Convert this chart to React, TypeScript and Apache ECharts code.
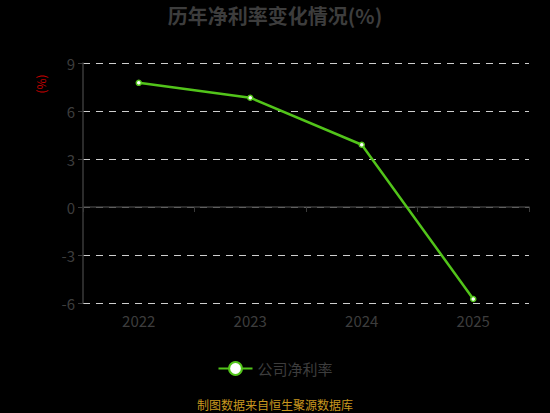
import { useEffect, useRef } from "react";
import * as echarts from "echarts";

const years = ["2022", "2023", "2024", "2025"];
const netMargin = [7.76, 6.83, 3.89, -5.75];
const seriesName = "公司净利率";

const FONT = "'Noto Sans CJK SC', 'Noto Sans', sans-serif";

function App() {
  const chartRef = useRef<HTMLDivElement>(null);

  useEffect(() => {
    if (!chartRef.current) return;
    const chart = echarts.init(chartRef.current, undefined, { renderer: "svg" });

    const option: echarts.EChartsOption = {
      animation: false,
      backgroundColor: "#000000",
      textStyle: { fontFamily: FONT },
      title: {
        text: "历年净利率变化情况(%)",
        left: "center",
        top: 0,
        textStyle: { color: "#3d3d3d", fontSize: 20, fontWeight: "bold", fontFamily: FONT },
      },
      grid: { left: 83, right: 21, top: 63, bottom: 110 },
      legend: {
        bottom: 32,
        left: "center",
        itemWidth: 34,
        itemHeight: 16,
        data: [seriesName],
        textStyle: { color: "#3d3d3d", fontSize: 15, fontFamily: FONT },
      },
      graphic: [
        {
          type: "text",
          x: 40,
          y: 84,
          rotation: Math.PI / 2,
          style: {
            text: "(%)",
            fill: "#c00000",
            fontSize: 12,
            fontFamily: FONT,
            align: "center",
            verticalAlign: "middle",
          },
        },
        {
          type: "text",
          left: "center",
          top: 398,
          style: {
            text: "制图数据来自恒生聚源数据库",
            fill: "#c8971f",
            fontSize: 12,
            fontFamily: FONT,
          },
        },
      ],
      xAxis: [
        {
          type: "category",
          data: years,
          position: "bottom",
          axisLine: { show: false, onZero: false },
          axisTick: { show: false },
          axisLabel: { color: "#3d3d3d", fontSize: 15, margin: 10 },
          splitLine: { show: false },
        },
        {
          type: "category",
          data: years,
          position: "top",
          axisLine: { show: true, onZero: true, lineStyle: { color: "#3a3a3a", width: 1.5 } },
          axisTick: { show: true, inside: true, length: 5, lineStyle: { color: "#3a3a3a" } },
          axisLabel: { show: false },
          splitLine: { show: false },
        },
      ],
      yAxis: {
        type: "value",
        min: -6,
        max: 9,
        interval: 3,
        axisLine: { show: true, lineStyle: { color: "#3a3a3a", width: 1.5 } },
        axisTick: { show: true, length: 5, lineStyle: { color: "#3a3a3a" } },
        axisLabel: { color: "#3d3d3d", fontSize: 15, margin: 8 },
        splitLine: { show: true, lineStyle: { color: "#cfcfcf", type: [7, 6], width: 1.2 } },
      },
      series: [
        {
          name: seriesName,
          type: "line",
          xAxisIndex: 0,
          data: netMargin,
          symbol: "circle",
          symbolSize: 5,
          lineStyle: { color: "#52c41a", width: 2.5 },
          itemStyle: { color: "#ffffff", borderColor: "#52c41a", borderWidth: 1.5 },
        },
      ],
    };

    chart.setOption(option);
    return () => {
      chart.dispose();
    };
  }, []);

  return (
    <div
      ref={chartRef}
      style={{ position: "fixed", left: 0, top: 0, width: 550, height: 413 }}
    />
  );
}

export default App;
